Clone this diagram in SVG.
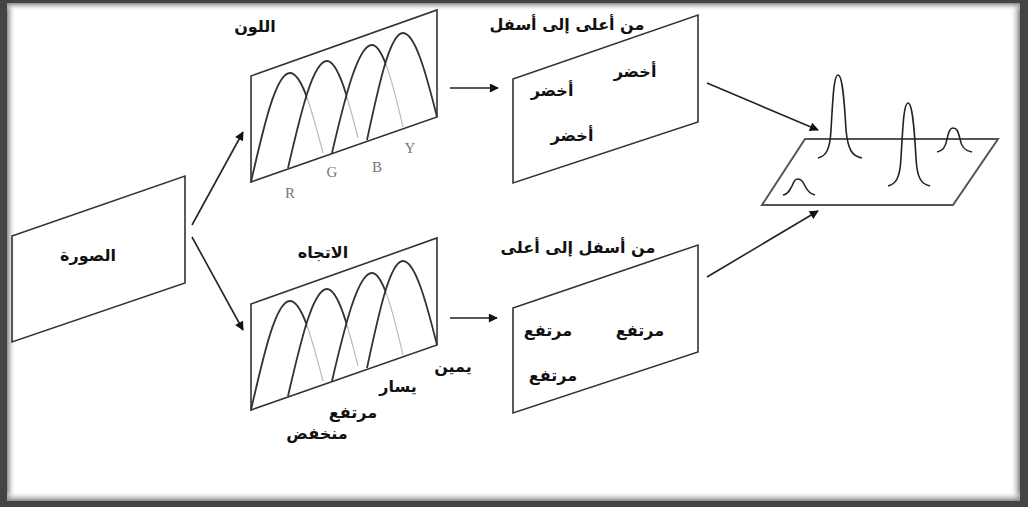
<svg xmlns="http://www.w3.org/2000/svg" width="1028" height="507" viewBox="0 0 1028 507">
<defs>
<style>
.frame{fill:none;stroke:#333;stroke-width:1.6}
.arr{fill:none;stroke:#222;stroke-width:1.6;marker-end:url(#ah)}
.dk{fill:none;stroke:#333;stroke-width:1.8}
.lt{fill:none;stroke:#bbb;stroke-width:1.2}
.pk{fill:none;stroke:#222;stroke-width:1.6}
.ar{font-family:"DejaVu Sans",sans-serif;font-weight:bold;font-size:16px;fill:#111;text-anchor:middle}
.ttl{font-size:16px}
.lat{font-family:"Liberation Serif",serif;font-size:15px;fill:#777;text-anchor:middle}
</style>
<marker id="ah" viewBox="0 0 10 10" refX="9" refY="5" markerWidth="11" markerHeight="9" markerUnits="userSpaceOnUse" orient="auto">
<path d="M0,0 L10,5 L0,10 Z" fill="#111"/>
</marker>
<linearGradient id="gl" x1="0" x2="1" y1="0" y2="0"><stop offset="0" stop-color="#888"/><stop offset="1" stop-color="#fff" stop-opacity="0"/></linearGradient>
<linearGradient id="gr" x1="1" x2="0" y1="0" y2="0"><stop offset="0" stop-color="#888"/><stop offset="1" stop-color="#fff" stop-opacity="0"/></linearGradient>
<linearGradient id="gt" x1="0" x2="0" y1="0" y2="1"><stop offset="0" stop-color="#888"/><stop offset="1" stop-color="#fff" stop-opacity="0"/></linearGradient>
<linearGradient id="gb" x1="0" x2="0" y1="1" y2="0"><stop offset="0" stop-color="#888"/><stop offset="1" stop-color="#fff" stop-opacity="0"/></linearGradient>
<clipPath id="c1"><rect x="0" y="0" width="307" height="507"/></clipPath>
<clipPath id="c2"><rect x="0" y="0" width="347" height="507"/></clipPath>
<clipPath id="c3"><rect x="0" y="0" width="386" height="507"/></clipPath>
<g id="curves">
<path class="lt" d="M290,73 C302,73 312,111 323,153"/>
<path class="lt" d="M327,61 C338,61 348,98 358,138"/>
<path class="lt" d="M372,45 C383,45 393,84 403,127"/>
<path class="dk" d="M251,182 C264,125 276,73 290,73"/>
<path class="dk" clip-path="url(#c1)" d="M290,73 C302,73 312,111 323,153"/>
<path class="dk" d="M288,168 C301,112 313,61 327,61"/>
<path class="dk" clip-path="url(#c2)" d="M327,61 C338,61 348,98 358,138"/>
<path class="dk" d="M332,153 C345,97 358,45 372,45"/>
<path class="dk" clip-path="url(#c3)" d="M372,45 C383,45 393,84 403,127"/>
<path class="dk" d="M367,140 C379,84 390,33 403,33 C415,33 426,73 437,117"/>
<polygon class="frame" points="251,76 437,10 437,117 251,182"/>
</g>
</defs>
<rect width="1028" height="507" fill="#444"/>
<rect x="7" y="3" width="1013" height="498" fill="#fff"/>
<rect x="7" y="3" width="9" height="498" fill="url(#gl)"/>
<rect x="1010" y="3" width="10" height="498" fill="url(#gr)"/>
<rect x="7" y="3" width="1013" height="8" fill="url(#gt)"/>
<rect x="7" y="491" width="1013" height="10" fill="url(#gb)"/>

<g id="connectors">
<line class="arr" x1="192" y1="225" x2="243" y2="132"/>
<line class="arr" x1="192" y1="237" x2="243" y2="330"/>
<line class="arr" x1="450" y1="88" x2="498" y2="88"/>
<line class="arr" x1="450" y1="318" x2="497" y2="318"/>
<line class="arr" x1="707" y1="83" x2="818" y2="130"/>
<line class="arr" x1="707" y1="277" x2="818" y2="211"/>
</g>

<g id="image">
<polygon class="frame" points="12,236 185,176 185,283 12,342"/>
<text class="ar" x="88" y="261">الصورة</text>
</g>

<g id="color">
<use href="#curves"/>
<text class="ar ttl" x="255" y="32">اللون</text>
<text class="lat" x="290" y="198">R</text>
<text class="lat" x="332" y="177">G</text>
<text class="lat" x="377" y="172">B</text>
<text class="lat" x="410" y="153">Y</text>
</g>

<g id="orientation">
<use href="#curves" transform="translate(0,228)"/>
<text class="ar ttl" x="323" y="258">الاتجاه</text>
<text class="ar" x="453" y="372">يمين</text>
<text class="ar" x="398" y="392">يسار</text>
<text class="ar" x="353" y="418">مرتفع</text>
<text class="ar" x="317" y="439">منخفض</text>
</g>

<g id="topdown">
<polygon class="frame" points="513,79 698,15 698,122 513,183"/>
<text class="ar ttl" x="567" y="30">من أعلى إلى أسفل</text>
<text class="ar" x="635" y="77">أخضر</text>
<text class="ar" x="552" y="96">أخضر</text>
<text class="ar" x="572" y="141">أخضر</text>
</g>

<g id="bottomup">
<polygon class="frame" points="513,308 698,245 698,352 513,413"/>
<text class="ar ttl" x="578" y="253">من أسفل إلى أعلى</text>
<text class="ar" x="548" y="336">مرتفع</text>
<text class="ar" x="640" y="336">مرتفع</text>
<text class="ar" x="553" y="381">مرتفع</text>
</g>

<g id="saliency">
<polygon points="805,139 998,139 953,205 762,205" fill="none" stroke="#555" stroke-width="2"/>
<path class="pk" d="M818,158 C826,156 830,150 831,130 C833,95 834,75 838,75 C842,75 844,95 846,130 C848,150 852,156 862,158"/>
<path class="pk" d="M888,186 C896,184 900,178 901,158 C903,123 904,103 908,103 C912,103 914,123 916,158 C917,178 921,184 930,186"/>
<path class="pk" d="M937,152 C943,151 946,146 947,139 C949,131 950,128 953,128 C957,128 958,131 960,139 C961,146 965,151 972,152"/>
<path class="pk" d="M783,195 C788,194 790,190 792,186 C794,181 795,179 798,179 C801,179 803,181 805,186 C807,190 810,194 815,195"/>
</g>
</svg>
